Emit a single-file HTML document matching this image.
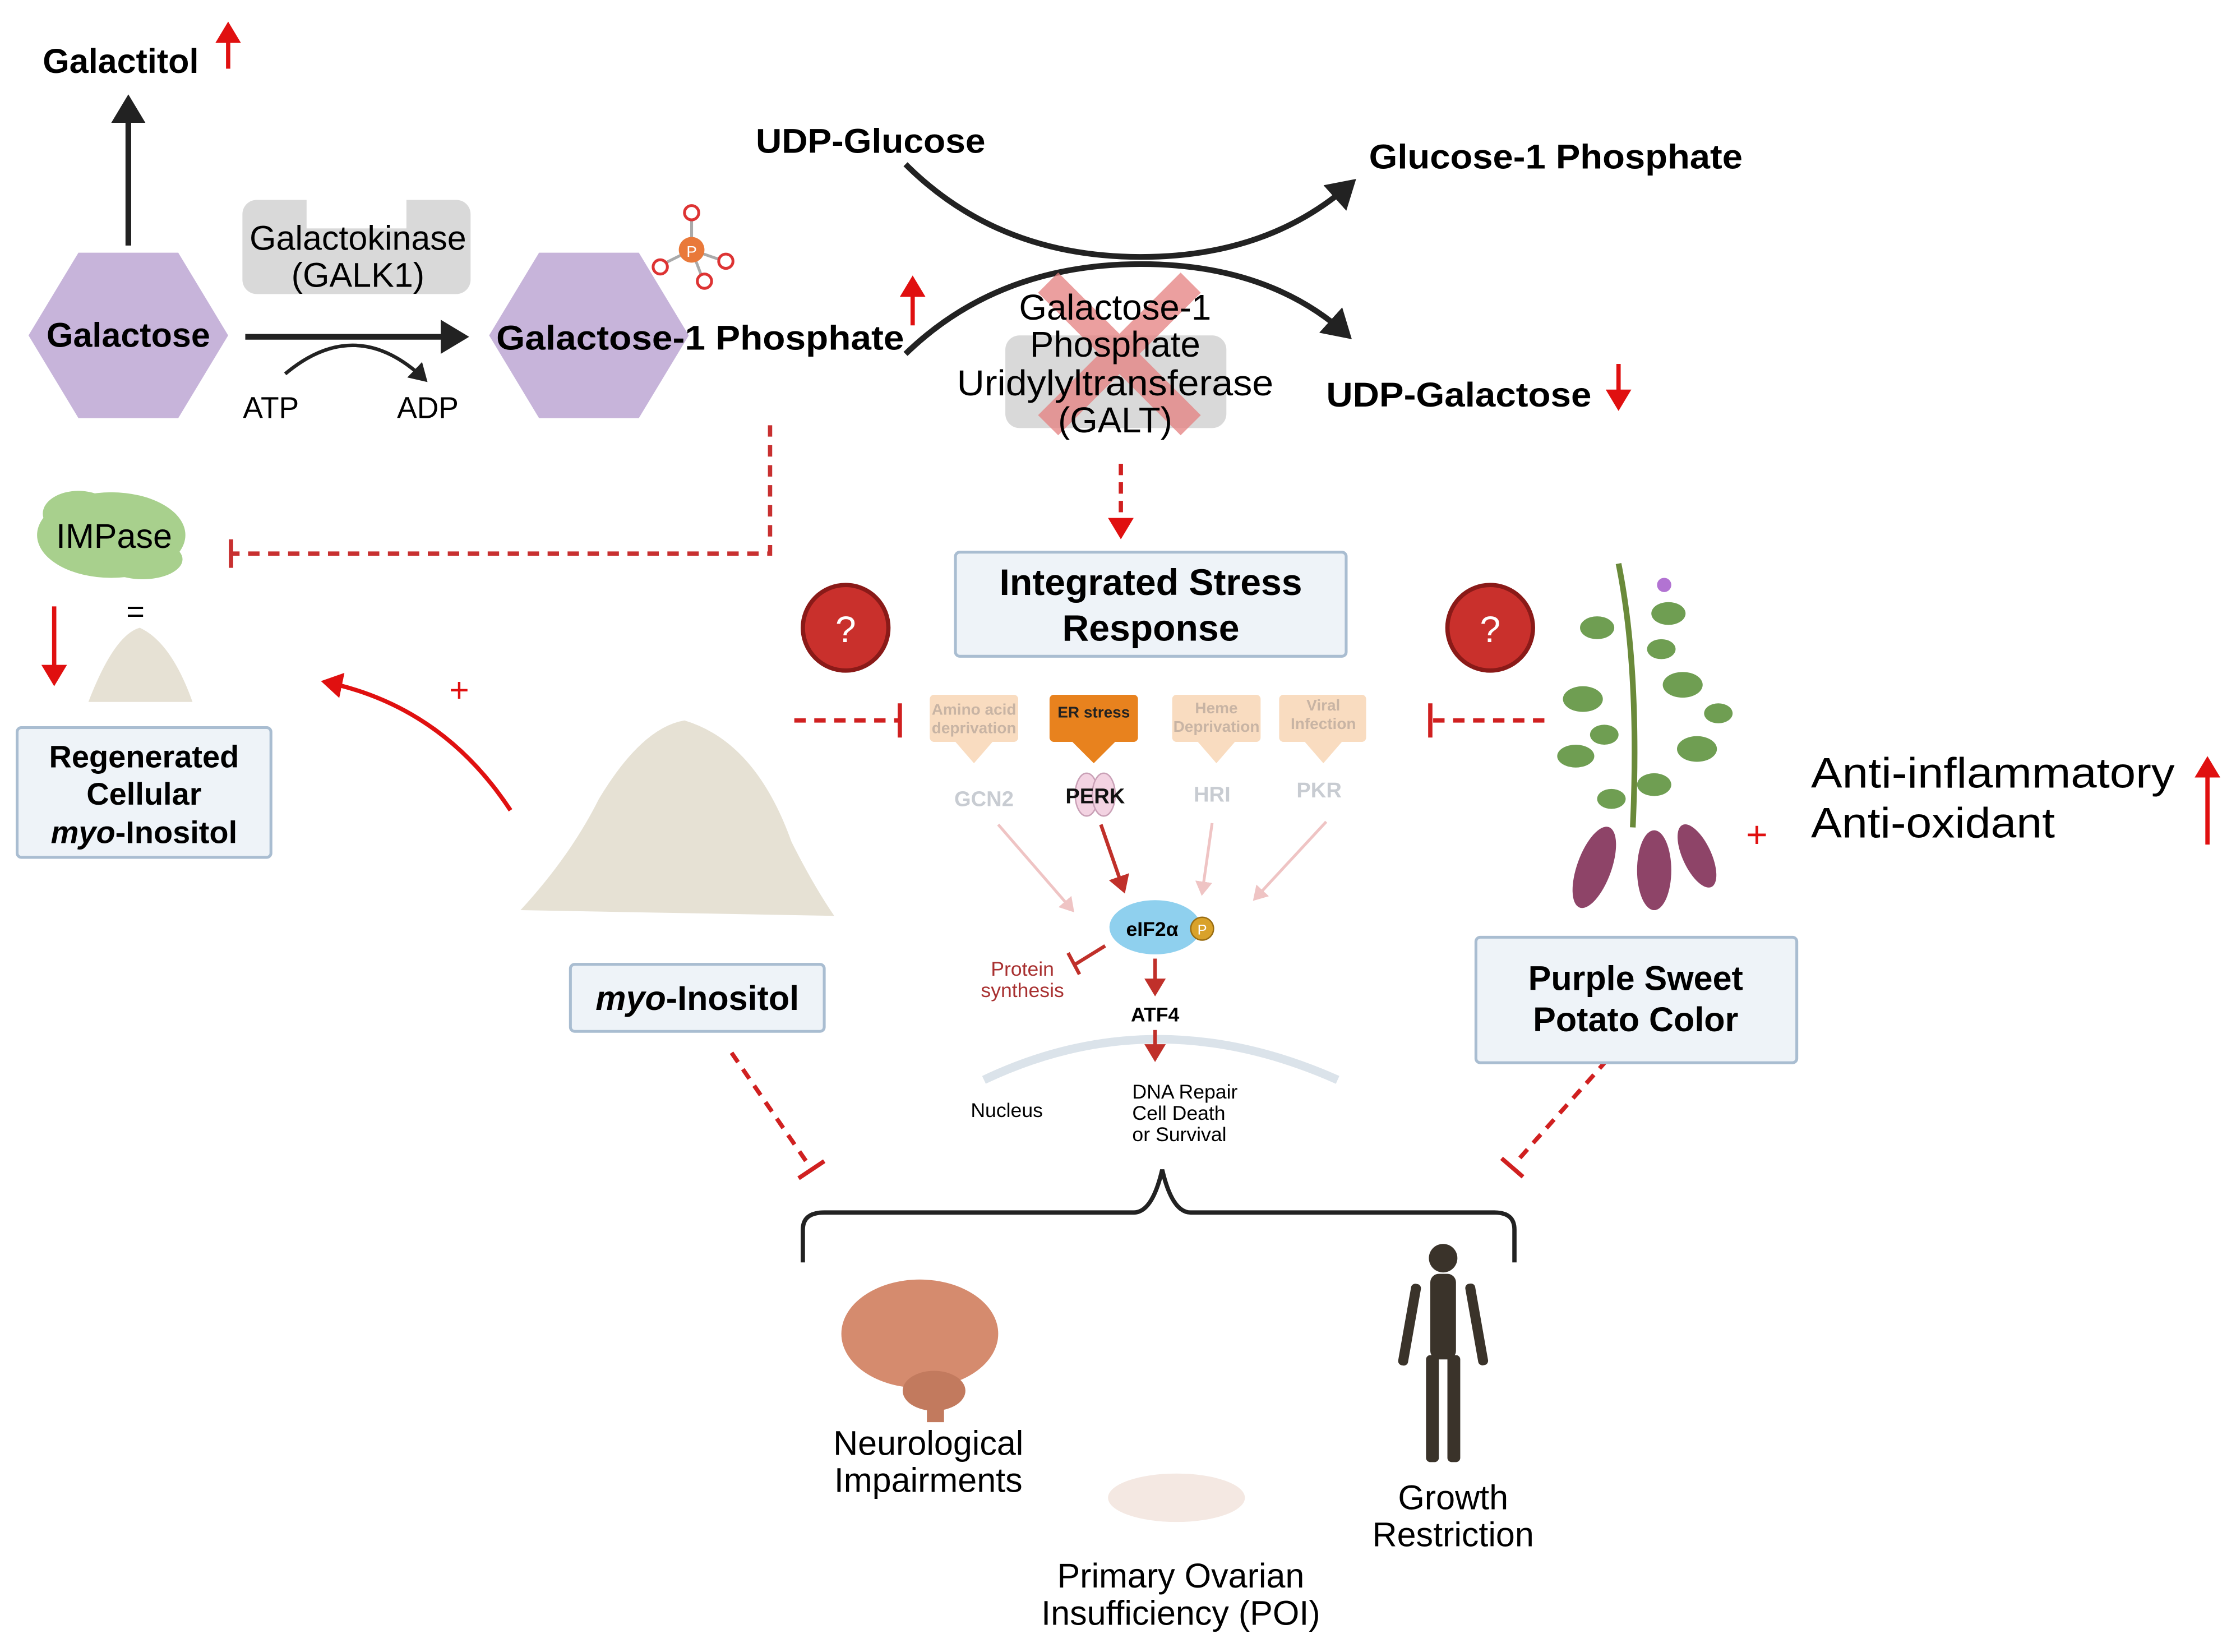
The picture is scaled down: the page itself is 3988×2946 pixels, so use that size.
<!DOCTYPE html>
<html><head><meta charset="utf-8"><style>
html,body{margin:0;padding:0;background:#fff}
svg{display:block}
text{font-family:"Liberation Sans",sans-serif}
</style></head><body>
<svg width="3988" height="2946" viewBox="0 0 1568 1158" xmlns="http://www.w3.org/2000/svg">
<defs>
<marker id="ab" markerWidth="6" markerHeight="6" refX="4" refY="3" orient="auto" markerUnits="strokeWidth"><path d="M0,0 L5,3 L0,6 z" fill="#222"/></marker>
<marker id="ar" markerWidth="6" markerHeight="6" refX="4" refY="3" orient="auto" markerUnits="strokeWidth"><path d="M0,0 L5,3 L0,6 z" fill="#e01010"/></marker>
<marker id="adr" markerWidth="6" markerHeight="6" refX="4" refY="3" orient="auto" markerUnits="strokeWidth"><path d="M0,0 L5,3 L0,6 z" fill="#c0302a"/></marker>
<marker id="ap" markerWidth="6" markerHeight="6" refX="4" refY="3" orient="auto" markerUnits="strokeWidth"><path d="M0,0 L5,3 L0,6 z" fill="#efc4c4"/></marker>
</defs>
<rect width="1568" height="1158" fill="#fff"/>

<text x="30" y="51" font-size="24" font-weight="bold">Galactitol</text>
<line x1="160" y1="48" x2="160" y2="18" stroke="#e01010" stroke-width="3" marker-end="url(#ar)"/>
<line x1="90" y1="172" x2="90" y2="70" stroke="#222" stroke-width="4" marker-end="url(#ab)"/>

<polygon points="20,235 55,177 125,177 160,235 125,293 55,293" fill="#c7b4da"/>
<text x="90" y="243" font-size="24" font-weight="bold" text-anchor="middle">Galactose</text>

<rect x="170" y="140" width="160" height="66" rx="10" fill="#d9d9d9"/>
<rect x="215" y="140" width="70" height="20" fill="#fff"/>
<text x="251" y="175" font-size="24" text-anchor="middle">Galactokinase</text>
<text x="251" y="201" font-size="24" text-anchor="middle">(GALK1)</text>
<line x1="172" y1="236" x2="325" y2="236" stroke="#222" stroke-width="4" marker-end="url(#ab)"/>
<path d="M200,262 Q250,220 298,266" fill="none" stroke="#222" stroke-width="2.5" marker-end="url(#ab)"/>
<text x="190" y="293" font-size="21" text-anchor="middle">ATP</text>
<text x="300" y="293" font-size="21" text-anchor="middle">ADP</text>

<polygon points="343,235 378,177 448,177 483,235 448,293 378,293" fill="#c7b4da"/>
<text x="348" y="245" font-size="24" font-weight="bold" textLength="286" lengthAdjust="spacingAndGlyphs">Galactose-1 Phosphate</text>
<g stroke="#aaa" stroke-width="2"><line x1="485" y1="175" x2="485" y2="150"/><line x1="485" y1="175" x2="463" y2="186"/><line x1="485" y1="175" x2="508" y2="183"/><line x1="485" y1="175" x2="493" y2="196"/></g>
<circle cx="485" cy="175" r="9" fill="#e9793a"/><text x="485" y="180" font-size="11" fill="#fff" text-anchor="middle">P</text>
<circle cx="485" cy="149" r="5" fill="#fff" stroke="#d33" stroke-width="2"/>
<circle cx="463" cy="187" r="5" fill="#fff" stroke="#d33" stroke-width="2"/>
<circle cx="509" cy="183" r="5" fill="#fff" stroke="#d33" stroke-width="2"/>
<circle cx="494" cy="197" r="5" fill="#fff" stroke="#d33" stroke-width="2"/>
<line x1="640" y1="228" x2="640" y2="196" stroke="#e01010" stroke-width="3" marker-end="url(#ar)"/>

<text x="530" y="107" font-size="24" font-weight="bold" textLength="161" lengthAdjust="spacingAndGlyphs">UDP-Glucose</text>
<text x="960" y="118" font-size="24" font-weight="bold" textLength="262" lengthAdjust="spacingAndGlyphs">Glucose-1 Phosphate</text>
<text x="930" y="285" font-size="24" font-weight="bold" textLength="186" lengthAdjust="spacingAndGlyphs">UDP-Galactose</text>
<line x1="1135" y1="255" x2="1135" y2="285" stroke="#e01010" stroke-width="3" marker-end="url(#ar)"/>
<path d="M635,115 Q700,180 800,180 Q890,180 948,128" fill="none" stroke="#222" stroke-width="4" marker-end="url(#ab)"/>
<path d="M635,248 Q700,185 800,185 Q890,185 945,235" fill="none" stroke="#222" stroke-width="4" marker-end="url(#ab)"/>
<rect x="705" y="235" width="155" height="65" rx="10" fill="#d9d9d9"/>
<g stroke="#e58080" stroke-width="20" opacity="0.75"><line x1="735" y1="198" x2="835" y2="298"/><line x1="835" y1="198" x2="735" y2="298"/></g>
<text x="782" y="224" font-size="25" text-anchor="middle">Galactose-1</text>
<text x="782" y="250" font-size="25" text-anchor="middle">Phosphate</text>
<text x="782" y="277" font-size="25" text-anchor="middle" textLength="222" lengthAdjust="spacingAndGlyphs">Uridylyltransferase</text>
<text x="782" y="303" font-size="25" text-anchor="middle">(GALT)</text>
<line x1="786" y1="325" x2="786" y2="375" stroke="#d02020" stroke-width="3" stroke-dasharray="8,5" marker-end="url(#ar)"/>

<rect x="670" y="387" width="274" height="73" rx="3" fill="#eef3f8" stroke="#a9bdd1" stroke-width="2"/>
<text x="807" y="417" font-size="26" font-weight="bold" text-anchor="middle">Integrated Stress</text>
<text x="807" y="449" font-size="26" font-weight="bold" text-anchor="middle">Response</text>

<path d="M540,298 V388 H162" fill="none" stroke="#c83030" stroke-width="3" stroke-dasharray="8,6"/>
<line x1="162" y1="378" x2="162" y2="398" stroke="#c83030" stroke-width="3"/>
<ellipse cx="78" cy="375" rx="52" ry="30" fill="#a8d08d"/>
<ellipse cx="55" cy="360" rx="25" ry="16" fill="#a8d08d"/><ellipse cx="100" cy="392" rx="28" ry="14" fill="#a8d08d"/>
<text x="80" y="384" font-size="24" text-anchor="middle">IMPase</text>
<text x="95" y="436" font-size="22" text-anchor="middle">=</text>
<line x1="38" y1="425" x2="38" y2="478" stroke="#e01010" stroke-width="3" marker-end="url(#ar)"/>
<path d="M62,492 Q80,445 98,440 Q120,450 135,492 Z" fill="#e6e1d4"/>
<rect x="12" y="510" width="178" height="91" rx="3" fill="#eef3f8" stroke="#a9bdd1" stroke-width="2"/>
<text x="101" y="538" font-size="22" font-weight="bold" text-anchor="middle">Regenerated</text>
<text x="101" y="564" font-size="22" font-weight="bold" text-anchor="middle">Cellular</text>
<text x="101" y="591" font-size="22" font-weight="bold" text-anchor="middle"><tspan font-style="italic">myo</tspan>-Inositol</text>
<path d="M358,568 Q310,495 228,478" fill="none" stroke="#e01010" stroke-width="3" marker-end="url(#ar)"/>
<text x="322" y="492" font-size="24" fill="#e01010" text-anchor="middle">+</text>

<path d="M365,638 Q400,600 420,560 Q450,510 480,505 Q530,520 555,590 Q570,620 585,642 Z" fill="#e6e1d4"/>
<rect x="400" y="676" width="178" height="47" rx="3" fill="#eef3f8" stroke="#a9bdd1" stroke-width="2"/>
<text x="489" y="708" font-size="24" font-weight="bold" text-anchor="middle"><tspan font-style="italic">myo</tspan>-Inositol</text>

<circle cx="593" cy="440" r="30" fill="#c9302c" stroke="#8a1a18" stroke-width="3"/>
<text x="593" y="450" font-size="26" fill="#fff" text-anchor="middle">?</text>
<circle cx="1045" cy="440" r="30" fill="#c9302c" stroke="#8a1a18" stroke-width="3"/>
<text x="1045" y="450" font-size="26" fill="#fff" text-anchor="middle">?</text>
<line x1="557" y1="505" x2="630" y2="505" stroke="#d02020" stroke-width="3" stroke-dasharray="8,6"/>
<line x1="631" y1="493" x2="631" y2="517" stroke="#d02020" stroke-width="3"/>
<line x1="1083" y1="505" x2="1005" y2="505" stroke="#d02020" stroke-width="3" stroke-dasharray="8,6"/>
<line x1="1003" y1="493" x2="1003" y2="517" stroke="#d02020" stroke-width="3"/>

<g font-size="11" font-weight="bold" text-anchor="middle">
<rect x="652" y="487" width="62" height="33" rx="3" fill="#f9dcc0"/><polygon points="670,520 696,520 683,535" fill="#f9dcc0"/>
<text x="683" y="501" fill="#c8b4a4">Amino acid</text><text x="683" y="514" fill="#c8b4a4">deprivation</text>
<rect x="736" y="487" width="62" height="33" rx="3" fill="#e8821e"/><polygon points="752,520 782,520 767,535" fill="#e8821e"/>
<text x="767" y="503" fill="#222">ER stress</text>
<rect x="822" y="487" width="62" height="33" rx="3" fill="#f9dcc0"/><polygon points="840,520 866,520 853,535" fill="#f9dcc0"/>
<text x="853" y="500" fill="#c8b4a4">Heme</text><text x="853" y="513" fill="#c8b4a4">Deprivation</text>
<rect x="897" y="487" width="61" height="33" rx="3" fill="#f9dcc0"/><polygon points="915,520 941,520 928,535" fill="#f9dcc0"/>
<text x="928" y="498" fill="#c8b4a4">Viral</text><text x="928" y="511" fill="#c8b4a4">Infection</text>
</g>
<ellipse cx="762" cy="557" rx="8" ry="15" fill="#f3d3e2" stroke="#c9a0b6"/><ellipse cx="774" cy="557" rx="8" ry="15" fill="#f3d3e2" stroke="#c9a0b6"/>
<g font-size="15" font-weight="bold" text-anchor="middle">
<text x="690" y="565" fill="#c8ccd2">GCN2</text>
<text x="768" y="563" fill="#111">PERK</text>
<text x="850" y="562" fill="#c8ccd2">HRI</text>
<text x="925" y="559" fill="#c8ccd2">PKR</text>
</g>
<line x1="700" y1="578" x2="752" y2="638" stroke="#efc4c4" stroke-width="2" marker-end="url(#ap)"/>
<line x1="772" y1="578" x2="788" y2="624" stroke="#c0302a" stroke-width="2.5" marker-end="url(#adr)"/>
<line x1="850" y1="577" x2="843" y2="626" stroke="#efc4c4" stroke-width="2" marker-end="url(#ap)"/>
<line x1="930" y1="576" x2="880" y2="630" stroke="#efc4c4" stroke-width="2" marker-end="url(#ap)"/>
<ellipse cx="810" cy="650" rx="32" ry="19" fill="#8fd0ee"/>
<text x="808" y="656" font-size="14" font-weight="bold" text-anchor="middle">eIF2α</text>
<circle cx="843" cy="651" r="8" fill="#d9a22a" stroke="#9a6d12"/><text x="843" y="655" font-size="10" fill="#fff" text-anchor="middle">P</text>
<line x1="775" y1="663" x2="754" y2="676" stroke="#c0302a" stroke-width="2.5"/><line x1="749" y1="668" x2="757" y2="683" stroke="#c0302a" stroke-width="2.5"/>
<text x="717" y="684" font-size="14" fill="#a83030" text-anchor="middle">Protein</text>
<text x="717" y="699" font-size="14" fill="#a83030" text-anchor="middle">synthesis</text>
<line x1="810" y1="672" x2="810" y2="696" stroke="#c0302a" stroke-width="2.5" marker-end="url(#adr)"/>
<path d="M690,757 Q810,700 938,757" fill="none" stroke="#dbe3ea" stroke-width="6"/>
<text x="810" y="716" font-size="14" font-weight="bold" text-anchor="middle">ATF4</text>
<line x1="810" y1="722" x2="810" y2="742" stroke="#c0302a" stroke-width="2.5" marker-end="url(#adr)"/>
<text x="706" y="783" font-size="14" text-anchor="middle">Nucleus</text>
<text x="794" y="770" font-size="14">DNA Repair</text>
<text x="794" y="785" font-size="14">Cell Death</text>
<text x="794" y="800" font-size="14">or Survival</text>

<line x1="513" y1="738" x2="568" y2="818" stroke="#d02020" stroke-width="3" stroke-dasharray="8,6"/>
<line x1="560" y1="826" x2="578" y2="814" stroke="#d02020" stroke-width="3"/>
<line x1="1127" y1="743" x2="1062" y2="816" stroke="#d02020" stroke-width="3" stroke-dasharray="8,6"/>
<line x1="1053" y1="812" x2="1068" y2="825" stroke="#d02020" stroke-width="3"/>
<path d="M563,885 V862 Q563,850 578,850 H795 Q808,850 815,820 Q822,850 835,850 H1048 Q1062,850 1062,862 V885" fill="none" stroke="#222" stroke-width="3"/>

<ellipse cx="645" cy="935" rx="55" ry="38" fill="#d58b6e"/>
<ellipse cx="655" cy="975" rx="22" ry="14" fill="#c27a5e"/>
<rect x="650" y="975" width="12" height="22" fill="#c27a5e"/>
<text x="651" y="1020" font-size="24" text-anchor="middle">Neurological</text>
<text x="651" y="1046" font-size="24" text-anchor="middle">Impairments</text>
<ellipse cx="825" cy="1050" rx="48" ry="17" fill="#f4e8e2"/>
<text x="828" y="1113" font-size="24" text-anchor="middle">Primary Ovarian</text>
<text x="828" y="1139" font-size="24" text-anchor="middle">Insufficiency (POI)</text>
<g fill="#3a332a">
<circle cx="1012" cy="882" r="10"/><rect x="1003" y="893" width="18" height="60" rx="6"/>
<rect x="990" y="900" width="7" height="58" rx="3" transform="rotate(10 993 900)"/>
<rect x="1027" y="900" width="7" height="58" rx="3" transform="rotate(-10 1030 900)"/>
<rect x="1000" y="950" width="9" height="75" rx="3"/><rect x="1015" y="950" width="9" height="75" rx="3"/>
</g>
<text x="1019" y="1058" font-size="24" text-anchor="middle">Growth</text>
<text x="1019" y="1084" font-size="24" text-anchor="middle">Restriction</text>

<path d="M1135,395 Q1150,470 1145,580" fill="none" stroke="#6a8a3a" stroke-width="4"/>
<g fill="#6f9e52">
<ellipse cx="1120" cy="440" rx="12" ry="8"/><ellipse cx="1170" cy="430" rx="12" ry="8"/><ellipse cx="1110" cy="490" rx="14" ry="9"/>
<ellipse cx="1180" cy="480" rx="14" ry="9"/><ellipse cx="1105" cy="530" rx="13" ry="8"/><ellipse cx="1190" cy="525" rx="14" ry="9"/>
<ellipse cx="1165" cy="455" rx="10" ry="7"/><ellipse cx="1125" cy="515" rx="10" ry="7"/><ellipse cx="1205" cy="500" rx="10" ry="7"/>
<ellipse cx="1160" cy="550" rx="12" ry="8"/><ellipse cx="1130" cy="560" rx="10" ry="7"/>
</g>
<circle cx="1167" cy="410" r="5" fill="#b273d2"/>
<g fill="#8e4468">
<ellipse cx="1118" cy="608" rx="12" ry="30" transform="rotate(20 1118 608)"/>
<ellipse cx="1160" cy="610" rx="12" ry="28"/>
<ellipse cx="1190" cy="600" rx="10" ry="24" transform="rotate(-25 1190 600)"/>
</g>
<text x="1232" y="594" font-size="26" fill="#e01010" text-anchor="middle">+</text>
<text x="1270" y="552" font-size="30" textLength="255" lengthAdjust="spacingAndGlyphs">Anti-inflammatory</text>
<text x="1270" y="587" font-size="30" textLength="171" lengthAdjust="spacingAndGlyphs">Anti-oxidant</text>
<line x1="1548" y1="592" x2="1548" y2="533" stroke="#e01010" stroke-width="3" marker-end="url(#ar)"/>
<rect x="1035" y="657" width="225" height="88" rx="3" fill="#eef3f8" stroke="#a9bdd1" stroke-width="2"/>
<text x="1147" y="694" font-size="24" font-weight="bold" text-anchor="middle">Purple Sweet</text>
<text x="1147" y="723" font-size="24" font-weight="bold" text-anchor="middle">Potato Color</text>
</svg>
</body></html>
